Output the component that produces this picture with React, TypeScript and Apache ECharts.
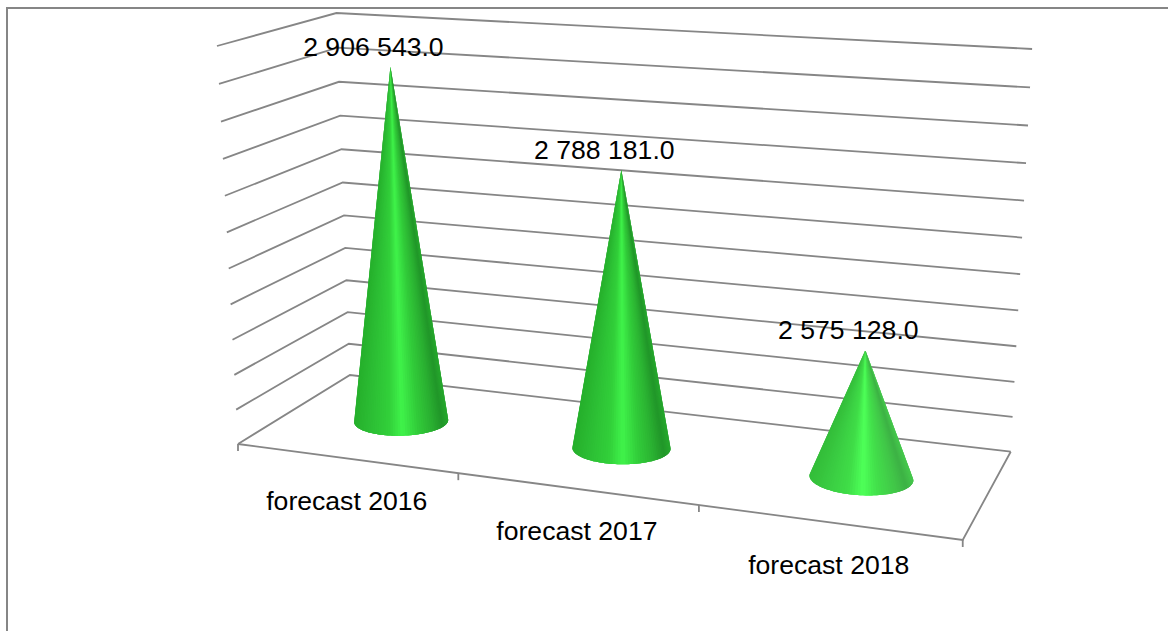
import React, { useEffect, useRef } from "react";
import * as echarts from "echarts";

const categories = ["forecast 2016", "forecast 2017", "forecast 2018"];
const values = [2906543.0, 2788181.0, 2575128.0];
const axisMin = 2400000;
const axisMax = 2950000;
const axisStep = 50000;
const gridValues = [
  2400000, 2450000, 2500000, 2550000, 2600000, 2650000, 2700000, 2750000, 2800000, 2850000, 2900000, 2950000,
];

const LINE = "#868686";
const LINE_WIDTH = 1.8;
const FONT = '"Liberation Sans", Arial, sans-serif';
const FONT_SIZE = 26.6;

// Floor-plane perspective: (u, w) in the unit square, u along the category axis, w into depth.
const H = { a: 603, b: 149.1, c: 238, d: 27.7, e: -29.2, f: 444, g: -0.12645, h: 0.10605 };

function floorPoint(u: number, w: number) {
  const den = H.g * u + H.h * w + 1;
  return [(H.a * u + H.b * w + H.c) / den, (H.d * u + H.e * w + H.f) / den];
}

// Raises a floor point to a normalised height t, with convergence of the verticals.
function project(u: number, w: number, t: number) {
  const [fx, fy] = floorPoint(u, w);
  const scale = 1 - 0.1111 * u + 0.0994 * w;
  const hp = (376.2 * t + 21.8 * t * t) / scale;
  const lean = -0.0528 + (fx - 238) * 0.000137;
  return [fx + lean * hp, fy - hp];
}

function heightOf(api: any, params: any, value: number) {
  const cs = params.coordSys;
  return (cs.y + cs.height - api.coord([0, value])[1]) / cs.height;
}

function formatValue(v: number) {
  const [whole, frac] = v.toFixed(1).split(".");
  return whole.replace(/\B(?=(\d{3})+$)/g, " ") + "." + frac;
}

const bodyStops: [number, number[]][] = [
  [0, [38, 176, 44]],
  [0.16, [44, 190, 52]],
  [0.36, [50, 208, 58]],
  [0.5, [64, 243, 74]],
  [0.66, [50, 205, 58]],
  [0.82, [42, 176, 49]],
  [0.93, [33, 150, 41]],
  [1, [38, 168, 45]],
];

function bodyColor(frac: number, lift: number) {
  let i = 0;
  while (i < bodyStops.length - 2 && frac > bodyStops[i + 1][0]) i++;
  const [p0, c0] = bodyStops[i];
  const [p1, c1] = bodyStops[i + 1];
  const k = Math.min(1, Math.max(0, (frac - p0) / (p1 - p0)));
  const boost = lift * (1 + Math.max(0, frac - 0.6) * 3);
  const mix = c0.map((c, j) => Math.round(Math.min(255, c + (c1[j] - c) * k + boost)));
  return `rgb(${mix[0]},${mix[1]},${mix[2]})`;
}

function renderWalls(params: any, api: any) {
  const t = heightOf(api, params, api.value(1));
  return {
    type: "polyline",
    shape: { points: [project(0, 0, t), project(0, 1, t), project(1, 1, t)] },
    style: { stroke: LINE, lineWidth: LINE_WIDTH, fill: null },
  };
}

function renderFrontEdge() {
  const children: any[] = [
    {
      type: "polyline",
      shape: { points: [floorPoint(0, 0), floorPoint(1, 0), floorPoint(1, 1)] },
      style: { stroke: LINE, lineWidth: LINE_WIDTH, fill: null },
    },
  ];
  for (let i = 0; i <= categories.length; i++) {
    const [x, y] = floorPoint(i / categories.length, 0);
    children.push({
      type: "line",
      shape: { x1: x, y1: y, x2: x, y2: y + 7 },
      style: { stroke: LINE, lineWidth: LINE_WIDTH },
    });
  }
  return { type: "group", children };
}

function renderCone(params: any, api: any) {
  const cs = params.coordSys;
  const idx = api.value(0);
  const value = api.value(1);
  const mid = (api.coord([idx, axisMin])[0] - cs.x) / cs.width;
  const u = mid + 0.0015;
  const w = 0.5;
  const apex = project(u, w, heightOf(api, params, value));

  const rim: number[][] = [];
  const N = 120;
  for (let i = 0; i < N; i++) {
    const a = (i / N) * Math.PI * 2;
    rim.push(floorPoint(u + 0.0672 * Math.cos(a), w + 0.1928 * Math.sin(a)));
  }
  // Tangent points seen from the apex bound the visible front of the surface.
  let left = 0;
  let right = 0;
  const slope = (p: number[]) => Math.atan2(p[0] - apex[0], p[1] - apex[1]);
  rim.forEach((p, i) => {
    if (slope(p) < slope(rim[left])) left = i;
    if (slope(p) > slope(rim[right])) right = i;
  });
  const walk = (from: number, to: number) => {
    const out: number[][] = [];
    for (let i = from; ; i = (i + 1) % N) {
      out.push(rim[i]);
      if (i === to) break;
    }
    return out;
  };
  const a1 = walk(left, right);
  const a2 = walk(right, left).reverse();
  const lowest = (arc: number[][]) => Math.max(...arc.map((p) => p[1]));
  const arc = lowest(a1) > lowest(a2) ? a1 : a2;

  const xs = arc.map((p) => p[0]);
  const minX = Math.min(...xs);
  const maxX = Math.max(...xs);
  const lift = Math.max(0, mid - 0.6) * 60;

  // Facets are painted left to right, each one overlapping the next to hide the seams.
  const children: any[] = [];
  for (let i = 0; i < arc.length - 1; i++) {
    const frac = (arc[i][0] - minX) / (maxX - minX);
    children.push({
      type: "polygon",
      shape: { points: [apex, ...arc.slice(i, Math.min(arc.length, i + 4))] },
      style: { fill: bodyColor(frac, lift) },
    });
  }
  children.push({
    type: "text",
    style: {
      text: formatValue(value),
      x: apex[0] - 17,
      y: apex[1] - 20,
      fill: "#000000",
      fontSize: FONT_SIZE,
      fontFamily: FONT,
      align: "center",
      verticalAlign: "middle",
    },
  });
  const edge = floorPoint(mid, 0);
  children.push({
    type: "text",
    style: {
      text: categories[idx],
      x: edge[0] + 1,
      y: edge[1] + 42.5,
      fill: "#000000",
      fontSize: FONT_SIZE,
      fontFamily: FONT,
      align: "center",
      verticalAlign: "middle",
    },
  });
  return { type: "group", children };
}

export default function App() {
  const ref = useRef<HTMLDivElement>(null);

  useEffect(() => {
    if (!ref.current) return;
    const chart = echarts.init(ref.current, undefined, { renderer: "svg" });
    chart.setOption({
      animation: false,
      backgroundColor: "#ffffff",
      grid: { left: 238, top: 46, width: 724.7, height: 398 },
      xAxis: { type: "category", data: categories, show: false },
      yAxis: { type: "value", min: axisMin, max: axisMax, interval: axisStep, show: false },
      graphic: [
        { type: "line", shape: { x1: 6, y1: 8, x2: 1168, y2: 8 }, style: { stroke: LINE, lineWidth: 2 } },
        { type: "line", shape: { x1: 7, y1: 7, x2: 7, y2: 631 }, style: { stroke: LINE, lineWidth: 2 } },
      ],
      series: [
        {
          type: "custom",
          silent: true,
          clip: false,
          renderItem: renderWalls,
          data: gridValues.map((v) => [0, v]),
          encode: { x: 0, y: 1 },
          z: 1,
        },
        {
          type: "custom",
          silent: true,
          clip: false,
          renderItem: renderFrontEdge,
          data: [[0, axisMin]],
          encode: { x: 0, y: 1 },
          z: 2,
        },
        {
          type: "custom",
          silent: true,
          clip: false,
          renderItem: renderCone,
          data: values.map((v, i) => [i, v]),
          encode: { x: 0, y: 1 },
          z: 3,
        },
      ],
    });
    return () => chart.dispose();
  }, []);

  return (
    <div
      ref={ref}
      style={{ position: "fixed", left: 0, top: 0, width: 1168, height: 631 }}
    />
  );
}
